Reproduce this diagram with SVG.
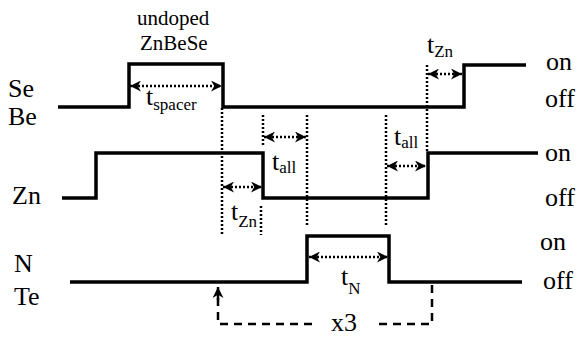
<svg xmlns="http://www.w3.org/2000/svg" width="577" height="337" viewBox="0 0 577 337">
<defs>
<style>
.sig{fill:none;stroke:#000;stroke-width:3.5;stroke-linejoin:miter;stroke-linecap:butt}
.dot{fill:none;stroke:#000;stroke-width:2.5;stroke-dasharray:2 2}
.arr{fill:none;stroke:#000;stroke-width:2.5;stroke-dasharray:2 2}
.dash{fill:none;stroke:#000;stroke-width:2.5;stroke-dasharray:8 6}
text{font-family:'Liberation Serif','DejaVu Serif','Times New Roman',serif;fill:#000}
.lbl{font-size:26px}
.st{font-size:21px}
.t{font-size:26px}
.sub{font-size:17px}
</style>
<marker id="ah" viewBox="0 0 10 10" refX="10" refY="5" markerWidth="11" markerHeight="11" markerUnits="userSpaceOnUse" orient="auto-start-reverse">
<path d="M0,0 L10,5 L0,10 L3,5 z" fill="#000"/>
</marker>
</defs>
<rect width="577" height="337" fill="#fff"/>

<g id="connectors">
<line class="dot" x1="222" y1="108" x2="222" y2="235"/>
<line class="dot" x1="263" y1="115" x2="263" y2="145"/>
<line class="dot" x1="261" y1="206" x2="261" y2="235"/>
<line class="dot" x1="307" y1="115" x2="307" y2="225"/>
<line class="dot" x1="386" y1="115" x2="386" y2="225"/>
<line class="dot" x1="427" y1="65" x2="427" y2="151"/>
<line class="arr" x1="130" y1="86" x2="222" y2="86" marker-start="url(#ah)" marker-end="url(#ah)"/>
<line class="arr" x1="264" y1="137" x2="306" y2="137" marker-start="url(#ah)" marker-end="url(#ah)"/>
<line class="arr" x1="223" y1="187" x2="262" y2="187" marker-start="url(#ah)" marker-end="url(#ah)"/>
<line class="arr" x1="387" y1="166" x2="426" y2="166" marker-start="url(#ah)" marker-end="url(#ah)"/>
<line class="arr" x1="428" y1="74" x2="462" y2="74" marker-start="url(#ah)" marker-end="url(#ah)"/>
<line class="arr" x1="309" y1="257" x2="388" y2="257" marker-start="url(#ah)" marker-end="url(#ah)"/>
<path class="dash" d="M432,285 L432,324 L378,324"/>
<path class="dash" d="M312,324 L218,324 L218,298"/>
<line x1="218" y1="300" x2="218" y2="287" stroke="#000" stroke-width="2.5" marker-end="url(#ah)"/>
</g>

<g id="se-be">
<path class="sig" d="M58,107 L129,107 L129,64 L223,64 L223,107 L464,107 L464,65 L526,65"/>
<text class="lbl" x="8" y="97">Se</text>
<text class="lbl" x="8" y="125">Be</text>
<text class="lbl" x="546" y="70">on</text>
<text class="lbl" x="545" y="107">off</text>
</g>

<g id="zn">
<path class="sig" d="M62,198 L96,198 L96,153 L263,153 L263,198 L428,198 L428,153 L538,153"/>
<text class="lbl" x="12" y="204">Zn</text>
<text class="lbl" x="545" y="161">on</text>
<text class="lbl" x="545" y="206">off</text>
</g>

<g id="n-te">
<path class="sig" d="M70,282 L307,282 L307,236 L389,236 L389,282 L522,282"/>
<text class="lbl" x="14" y="272">N</text>
<text class="lbl" x="14" y="305">Te</text>
<text class="lbl" x="540" y="250">on</text>
<text class="lbl" x="543" y="289">off</text>
</g>

<g id="labels">
<text class="st" x="137" y="25">undoped</text>
<text class="st" x="140" y="50">ZnBeSe</text>
<text class="t" x="146" y="105">t<tspan class="sub" dy="5">spacer</tspan></text>
<text class="t" x="272" y="170">t<tspan class="sub" dy="3">all</tspan></text>
<text class="t" x="231" y="220">t<tspan class="sub" dy="7">Zn</tspan></text>
<text class="t" x="394" y="145">t<tspan class="sub" dy="3">all</tspan></text>
<text class="t" x="427" y="53">t<tspan class="sub" dy="4">Zn</tspan></text>
<text class="t" x="341" y="285">t<tspan class="sub" dy="9">N</tspan></text>
<text class="lbl" x="331" y="331">x3</text>
</g>
</svg>
